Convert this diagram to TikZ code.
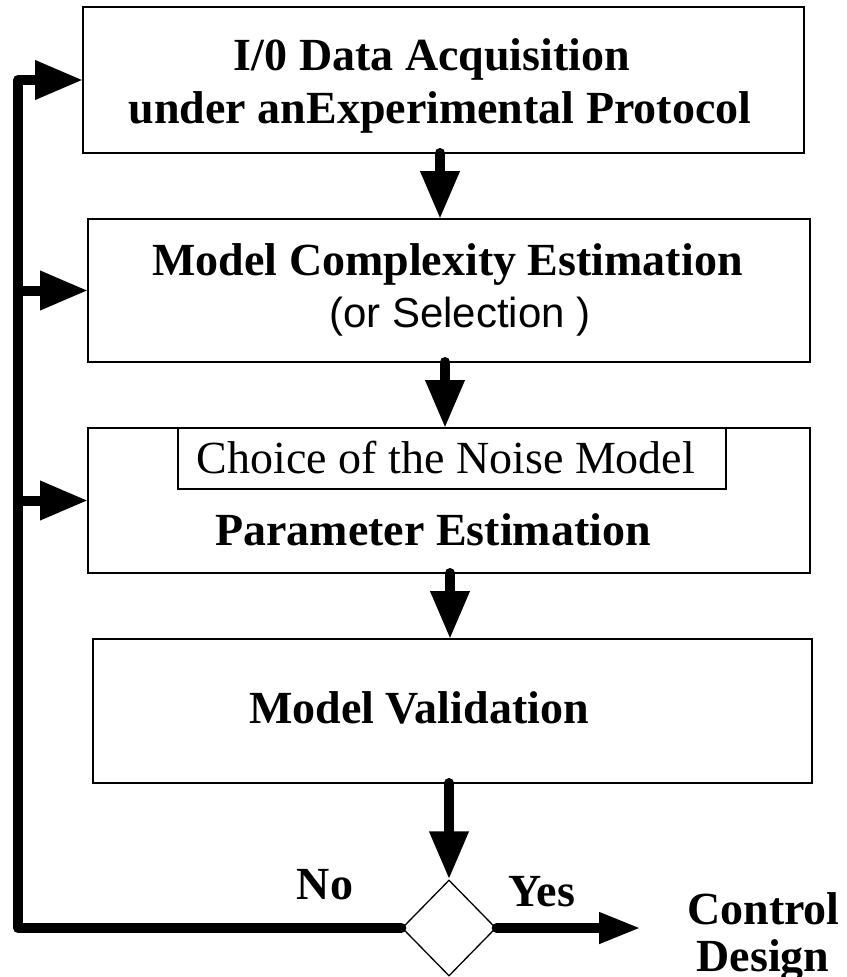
\documentclass[tikz,border=0pt]{standalone}
\usepackage{fontspec}
\setmainfont{Liberation Serif}
\setsansfont{Liberation Sans}
\usetikzlibrary{arrows.meta,shapes.geometric}

\begin{document}
\begin{tikzpicture}[x=1pt,y=-1pt,
  frame/.style={draw, line width=1.6pt, rectangle, inner sep=0pt, outer sep=0pt},
  boldtxt/.style={font=\fontsize{46}{53}\selectfont\bfseries, anchor=base, inner sep=0pt},
  plaintxt/.style={font=\fontsize{46}{53}\selectfont, anchor=base, inner sep=0pt},
  sanstxt/.style={font=\fontsize{42}{50}\selectfont\sffamily, anchor=base, inner sep=0pt},
  wire/.style={line width=10pt, line cap=round, line join=round},
  flow/.style={wire, -{Triangle[length=48pt,width=37pt]}},
  yesflow/.style={wire, -{Triangle[length=42pt,width=29pt]}}]

\useasboundingbox (0,0) rectangle (846,977);

% process boxes
\node[frame, minimum width=721pt, minimum height=146pt] (b1) at (443.5,80) {};
\node[frame, minimum width=722pt, minimum height=143pt] (b2) at (449,290.5) {};
\node[frame, minimum width=722pt, minimum height=145pt] (b3) at (449,500.5) {};
\node[frame, minimum width=548pt, minimum height=61pt] (noise) at (452,458.5) {};
\node[frame, minimum width=719pt, minimum height=144pt] (b4) at (452.5,711) {};

% box texts
\node[boldtxt] (t1a) at (432,70) {I/0 Data Acquisition};
\node[boldtxt] (t1b) at (440,123) {under anExperimental Protocol};
\node[boldtxt] (t2a) at (447.5,275) {Model Complexity Estimation};
\node[sanstxt] (t2b) at (460,327) {(or Selection )};
\node[plaintxt] (t3a) at (446,473) {Choice of the Noise Model};
\node[boldtxt] (t3b) at (433,545) {Parameter Estimation};
\node[boldtxt] (t4) at (419,723) {Model Validation};

% decision diamond
\node[diamond, draw, fill=white, line width=1.3pt, aspect=1, inner sep=0pt,
      minimum width=94pt, minimum height=96pt] (dec) at (449,928) {};

% main flow
\draw[flow] ([xshift=-3.5pt]b1.south) -- ([xshift=-3.5pt]b1.south |- b2.north);
\draw[flow] ([xshift=-4pt]b2.south) -- ([xshift=-4pt]b2.south |- b3.north);
\draw[flow] ([xshift=1pt]b3.south) -- ([xshift=1pt]b3.south |- b4.north);
\draw[flow] (b4.south -| dec.north) -- (dec.north);

% feedback loop
\coordinate (corner) at (18,80);
\coordinate (low) at (18,928);
\draw[flow] (dec.west) -- (low) -- (corner) -- (b1.west);
\draw[flow] (b2.west -| corner) -- (b2.west);
\draw[flow] (b3.west -| corner) -- (b3.west);

% exit
\coordinate (out) at (641,928);
\draw[yesflow] (dec.east) -- (out);

\node[boldtxt] (no) at (325,899) {No};
\node[boldtxt] (yes) at (542,906) {Yes};
\node[boldtxt] (ctl) at (763.5,924) {Control};
\node[boldtxt] (dsg) at (763,971) {Design};
\end{tikzpicture}
\end{document}
